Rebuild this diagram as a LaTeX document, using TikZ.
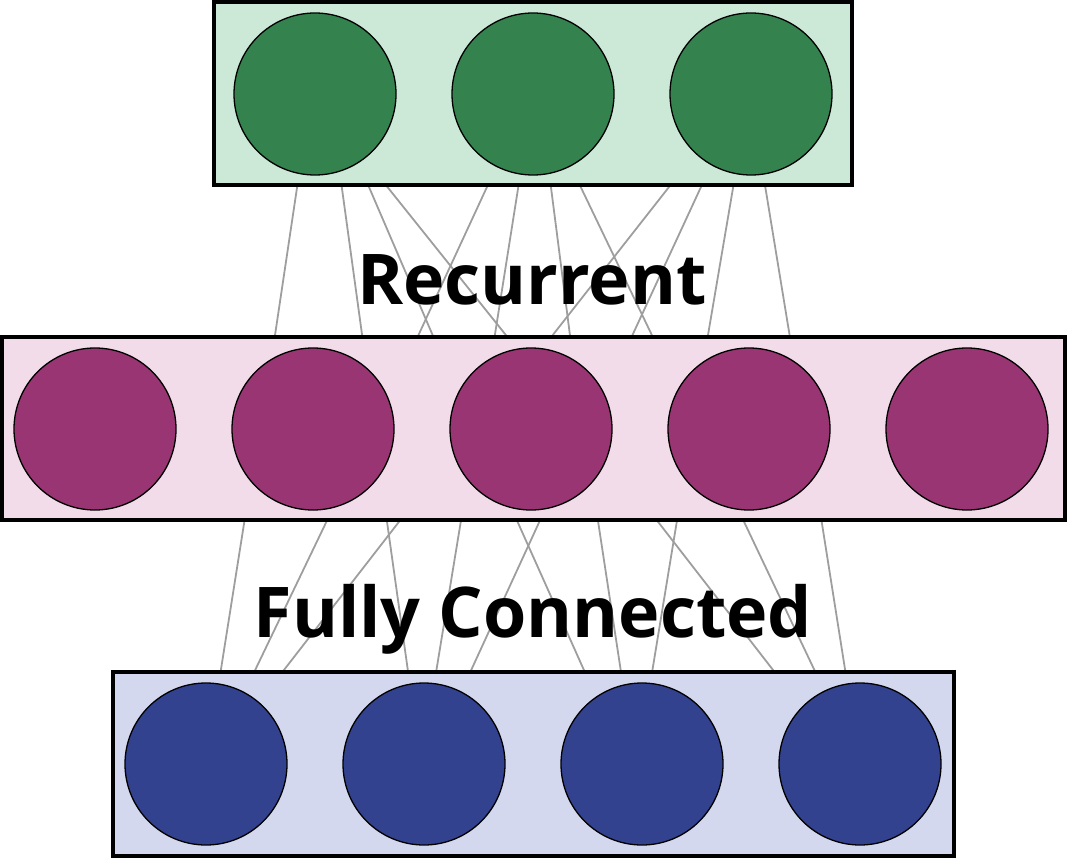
\documentclass[tikz,border=0pt]{standalone}
\usepackage{fontspec}
\setmainfont{Open Sans}
\usetikzlibrary{backgrounds}
\definecolor{gfill}{RGB}{204,233,216}
\definecolor{gnode}{RGB}{52,131,78}
\definecolor{pfill}{RGB}{242,220,233}
\definecolor{pnode}{RGB}{152,53,114}
\definecolor{bfill}{RGB}{211,216,238}
\definecolor{bnode}{RGB}{51,66,143}
\definecolor{wire}{RGB}{158,158,158}
\tikzset{
  layerbox/.style={draw=black, line width=3.5pt, inner sep=0pt, outer sep=0pt},
  neuron/.style={circle, draw=black, line width=1.3pt, minimum size=162pt, inner sep=0pt},
  wireline/.style={draw=wire, line width=1.8pt},
  label/.style={font=\fontsize{70}{84}\selectfont\bfseries, anchor=base, inner sep=0pt}
}
\begin{document}
\begin{tikzpicture}[x=1pt,y=-1pt]
\useasboundingbox (0,0) rectangle (1067,858);
% layer boxes
\node[layerbox, fill=gfill, minimum width=638pt, minimum height=183pt] (topbox) at (533,93.5) {};
\node[layerbox, fill=pfill, minimum width=1063pt, minimum height=183pt] (midbox) at (533.5,428.5) {};
\node[layerbox, fill=bfill, minimum width=841pt, minimum height=184pt] (botbox) at (533.5,764) {};
% neurons
\foreach \i/\x in {1/315,2/533,3/751}
  \node[neuron, fill=gnode] (t\i) at (\x,94) {};
\foreach \i/\x in {1/95,2/313,3/531,4/749,5/967}
  \node[neuron, fill=pnode] (m\i) at (\x,429) {};
\foreach \i/\x in {1/206,2/424,3/642,4/860}
  \node[neuron, fill=bnode] (b\i) at (\x,764) {};
% recurrent connection end points (top row / middle row)
\foreach \k/\a/\b in {1/311/261, 2/329/375, 3/329/473, 4/313/581,
                      5/530/375, 6/533/480, 7/539/582, 8/536/697,
                      9/742/479, 10/744/589, 11/749/692, 12/750/805} {
  \coordinate (rs\k) at (\a,94);
  \coordinate (re\k) at (\b,429);
}
% fully connected end points (middle row / bottom row)
\foreach \k/\a/\b in {1/259/206, 2/371/210, 3/471/211,
                      4/374/421, 5/476/421, 6/582/428,
                      7/476/626, 8/584/635, 9/692/637,
                      10/586/846, 11/700/859, 12/807/860} {
  \coordinate (fs\k) at (\a,429);
  \coordinate (fe\k) at (\b,764);
}
% connectors behind the boxes
\begin{scope}[on background layer]
  \foreach \k in {1,...,12} \draw[wireline] (rs\k) -- (re\k);
  \foreach \k in {1,...,12} \draw[wireline] (fs\k) -- (fe\k);
\end{scope}
% labels
\node[label] (rec) at (532,305) {Recurrent};
\node[label] (fc) at (533,637) {Fully Connected};
\end{tikzpicture}
\end{document}
